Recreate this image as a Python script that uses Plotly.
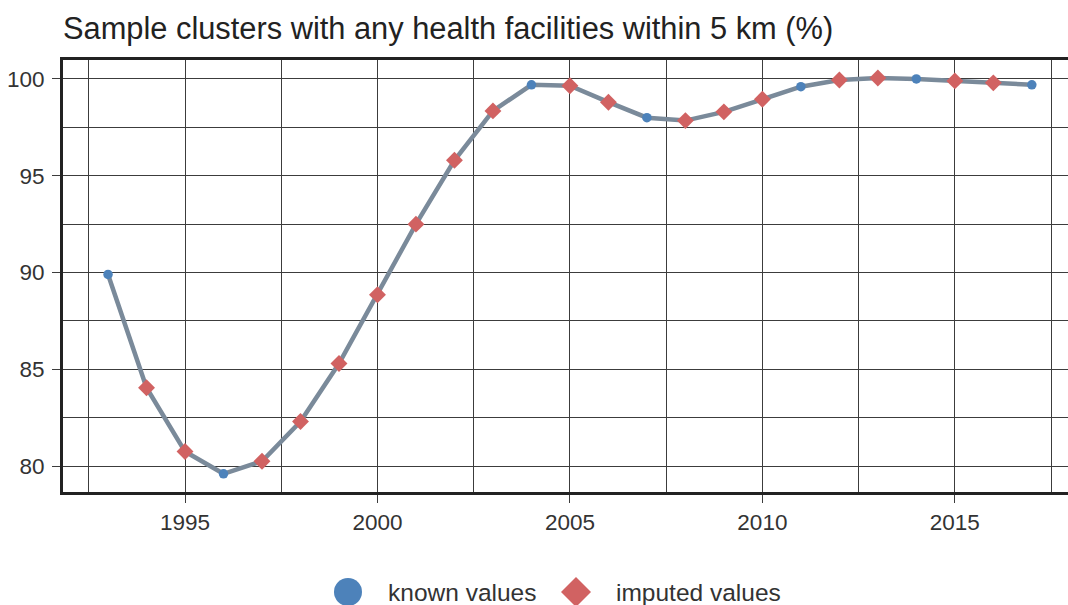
import plotly.graph_objects as go

years = list(range(1993, 2018))
values = [89.9, 84.05, 80.75, 79.6, 80.25, 82.3, 85.3, 88.85, 92.5, 95.8, 98.35,
          99.7, 99.65, 98.8, 98.0, 97.85, 98.3, 98.95, 99.6, 99.95, 100.05, 100.0,
          99.9, 99.8, 99.7]
status = ["known", "imputed", "imputed", "known", "imputed", "imputed", "imputed",
          "imputed", "imputed", "imputed", "imputed", "known", "imputed", "imputed",
          "known", "imputed", "imputed", "imputed", "known", "imputed", "imputed",
          "known", "imputed", "imputed", "known"]
legend_labels = ["known values", "imputed values"]
title_text = "Sample clusters with any health facilities within 5 km (%)"

FONT = "Liberation Sans, Arial, sans-serif"
LINE_COLOR = "#7a8a9a"
BLUE = "#4d82ba"
RED = "#d16262"
GRID = "#3c3c3c"
TXT = "#333333"

kx = [y for y, s in zip(years, status) if s == "known"]
ky = [v for v, s in zip(values, status) if s == "known"]
ix = [y for y, s in zip(years, status) if s == "imputed"]
iy = [v for v, s in zip(values, status) if s == "imputed"]

fig = go.Figure()
fig.add_trace(go.Scatter(x=years, y=values, mode="lines",
                         line=dict(color=LINE_COLOR, width=4.5), showlegend=False,
                         hoverinfo="skip"))
fig.add_trace(go.Scatter(x=kx, y=ky, mode="markers", name=legend_labels[0],
                         marker=dict(symbol="circle", size=9.5, color=BLUE),
                         showlegend=False))
fig.add_trace(go.Scatter(x=ix, y=iy, mode="markers", name=legend_labels[1],
                         marker=dict(symbol="diamond", size=13, color=RED),
                         showlegend=False))

# custom legend (large symbols) below the plot
W, H = 1068, 605
ml, mr, mt, mb = 63, 0, 60, 113
pw, ph = W - ml - mr, H - mt - mb
def px_x(x):
    return (x - ml) / pw
def px_y(y):
    return (H - mb - y) / ph

leg_y = px_y(592)
fig.add_shape(type="circle", xref="paper", yref="paper", xsizemode="pixel",
              ysizemode="pixel", xanchor=px_x(348), yanchor=leg_y,
              x0=-14, x1=14, y0=-14, y1=14, fillcolor=BLUE, line_width=0)
fig.add_shape(type="path", xref="paper", yref="paper", xsizemode="pixel",
              ysizemode="pixel", xanchor=px_x(576), yanchor=leg_y,
              path="M 0 -15 L 15 0 L 0 15 L -15 0 Z", fillcolor=RED, line_width=0)
fig.add_annotation(x=px_x(386), y=leg_y, xref="paper", yref="paper",
                   text=legend_labels[0], showarrow=False, xanchor="left",
                   yanchor="middle", font=dict(family=FONT, size=24.5, color=TXT))
fig.add_annotation(x=px_x(614), y=leg_y, xref="paper", yref="paper",
                   text=legend_labels[1], showarrow=False, xanchor="left",
                   yanchor="middle", font=dict(family=FONT, size=24.5, color=TXT))

fig.update_layout(
    width=W, height=H,
    margin=dict(l=ml, r=mr, t=mt, b=mb),
    paper_bgcolor="white", plot_bgcolor="white",
    title=dict(text=title_text, x=0.0, xanchor="left", xref="paper",
               y=1 - 28 / H, yref="container", yanchor="middle",
               font=dict(family=FONT, size=30.8, color="#222222")),
    font=dict(family=FONT, size=22, color=TXT),
    showlegend=False,
)

fig.update_xaxes(range=[1991.83, 2017.94], tick0=1995, dtick=5, ticks="outside",
                 ticklen=8, tickwidth=1, tickcolor=GRID, showgrid=True,
                 gridcolor=GRID, gridwidth=1, showline=True, linecolor="#222222",
                 linewidth=3, mirror=True, zeroline=False,
                 minor=dict(dtick=2.5, tick0=1995, showgrid=True, gridcolor=GRID,
                            gridwidth=1),
                 tickfont=dict(family=FONT, size=22.5, color=TXT))
fig.update_yaxes(range=[78.66, 100.98], tick0=80, dtick=5, ticks="outside",
                 ticklen=8, tickwidth=1, tickcolor=GRID, showgrid=True,
                 gridcolor=GRID, gridwidth=1, showline=True, linecolor="#222222",
                 linewidth=3, zeroline=False, ticklabelstandoff=3,
                 minor=dict(dtick=2.5, tick0=80, showgrid=True, gridcolor=GRID,
                            gridwidth=1),
                 tickfont=dict(family=FONT, size=22.5, color=TXT))

fig.write_html("out.html", config={"displayModeBar": False},
               post_script="document.body.style.margin='0';")
